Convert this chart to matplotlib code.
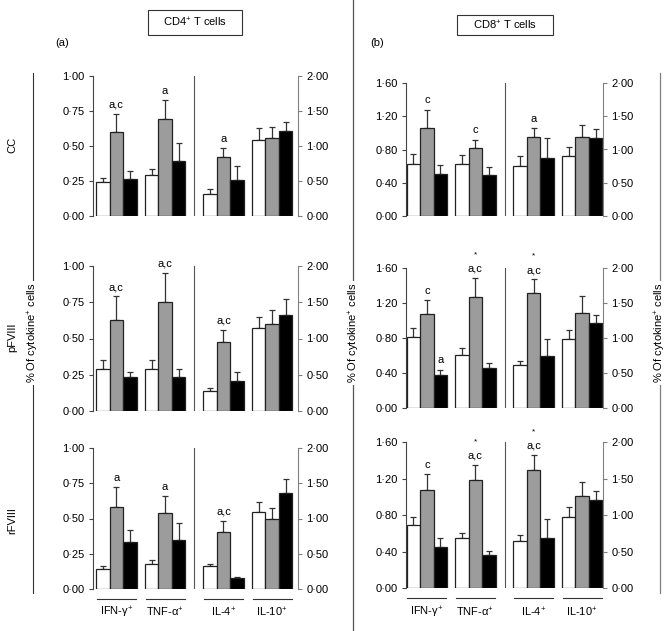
import numpy as np
import matplotlib.pyplot as plt
from matplotlib.patches import Rectangle
from matplotlib.lines import Line2D

plt.rcParams['font.family'] = ['Liberation Sans', 'DejaVu Sans']
plt.rcParams['mathtext.fontset'] = 'custom'
plt.rcParams['mathtext.rm'] = 'Liberation Sans'
plt.rcParams['mathtext.it'] = 'Liberation Sans:italic'
plt.rcParams['font.size'] = 8

# ---- data ----
groups = ['IFN-γ$^{+}$', 'TNF-α$^{+}$', 'IL-4$^{+}$', 'IL-10$^{+}$']
rows = ['CC', 'pFVIII', 'rFVIII']

# means: 4 groups x 3 bars (white, grey, black); IL-4 / IL-10 on right axis
cd4_cc = [[0.24, 0.60, 0.265], [0.29, 0.69, 0.39], [0.32, 0.84, 0.52], [1.09, 1.11, 1.21]]
cd4_cc_err = [[0.035, 0.13, 0.055], [0.045, 0.14, 0.13], [0.07, 0.13, 0.20], [0.16, 0.16, 0.13]]
cd4_pf = [[0.29, 0.63, 0.235], [0.29, 0.755, 0.235], [0.28, 0.95, 0.41], [1.15, 1.20, 1.32]]
cd4_pf_err = [[0.065, 0.16, 0.035], [0.065, 0.20, 0.055], [0.04, 0.17, 0.13], [0.15, 0.20, 0.22]]
cd4_rf = [[0.145, 0.58, 0.33], [0.175, 0.54, 0.35], [0.32, 0.81, 0.15], [1.09, 0.99, 1.36]]
cd4_rf_err = [[0.02, 0.14, 0.085], [0.03, 0.12, 0.115], [0.04, 0.16, 0.025], [0.14, 0.16, 0.20]]

cd8_cc = [[0.62, 1.06, 0.50], [0.62, 0.82, 0.49], [0.75, 1.19, 0.87], [0.90, 1.19, 1.18]]
cd8_cc_err = [[0.12, 0.22, 0.11], [0.11, 0.10, 0.10], [0.15, 0.13, 0.31], [0.14, 0.18, 0.13]]
cd8_pf = [[0.81, 1.07, 0.38], [0.61, 1.27, 0.46], [0.61, 1.64, 0.74], [0.98, 1.36, 1.21]]
cd8_pf_err = [[0.11, 0.16, 0.06], [0.08, 0.22, 0.05], [0.06, 0.20, 0.24], [0.14, 0.24, 0.12]]
cd8_rf = [[0.69, 1.07, 0.45], [0.55, 1.18, 0.36], [0.65, 1.62, 0.69], [0.97, 1.26, 1.21]]
cd8_rf_err = [[0.09, 0.18, 0.10], [0.05, 0.17, 0.05], [0.07, 0.20, 0.26], [0.14, 0.19, 0.12]]

# significance letters: (group, bar, text); stars: (group, bar)
cd4_notes = [
    [(0, 1, 'a,c'), (1, 1, 'a'), (2, 1, 'a')],
    [(0, 1, 'a,c'), (1, 1, 'a,c'), (2, 1, 'a,c')],
    [(0, 1, 'a'), (1, 1, 'a'), (2, 1, 'a,c')],
]
cd8_notes = [
    [(0, 1, 'c'), (1, 1, 'c'), (2, 1, 'a')],
    [(0, 1, 'c'), (0, 2, 'a'), (1, 1, 'a,c'), (2, 1, 'a,c')],
    [(0, 1, 'c'), (1, 1, 'a,c'), (2, 1, 'a,c')],
]
cd8_stars = [[], [(1, 1), (2, 1)], [(1, 1), (2, 1)]]

W, H = 668, 631
fig = plt.figure(figsize=(W / 100, H / 100), dpi=100)

centers = [0, 1, 2.2, 3.2]
bw = 0.278
colors = ['white', '#9c9c9c', 'black']


def fmt(v):
    return f'{v:.2f}'.replace('.', '·')


def panel(x0, x1, ytop, ybot, means, errs, ymax, yticks, notes, stars, xlim, last):
    ax = fig.add_axes([x0 / W, 1 - ybot / H, (x1 - x0) / W, (ybot - ytop) / H])
    ax2 = ax.twinx()
    for g in range(4):
        a = ax if g < 2 else ax2
        for b in range(3):
            x = centers[g] + (b - 1) * bw
            a.bar(x, means[g][b], bw, color=colors[b], edgecolor='#222222', linewidth=0.9, zorder=3)
            a.errorbar(x, means[g][b], yerr=[[0], [errs[g][b]]], color='#333333',
                       elinewidth=0.9, capsize=2.5, capthick=0.9, zorder=2)
    for g, b, t in notes:
        a = ax if g < 2 else ax2
        x = centers[g] + (b - 1) * bw
        a.annotate(t, (x, means[g][b] + errs[g][b]), xytext=(0, 3), textcoords='offset points',
                   ha='center', va='bottom', fontsize=8, annotation_clip=False)
    for g, b in stars:
        a = ax if g < 2 else ax2
        x = centers[g] + (b - 1) * bw
        a.annotate('*', (x, means[g][b] + errs[g][b]), xytext=(0, 14), textcoords='offset points',
                   ha='center', va='bottom', fontsize=6, annotation_clip=False)
    ax.set_xlim(*xlim)
    ax.set_ylim(0, ymax)
    ax2.set_ylim(0, 2)
    ax.set_yticks(yticks)
    ax.set_yticklabels([fmt(v) for v in yticks])
    r = [0, 0.5, 1, 1.5, 2]
    ax2.set_yticks(r)
    ax2.set_yticklabels([fmt(v) for v in r])
    for a in (ax, ax2):
        for s in ('top', 'bottom'):
            a.spines[s].set_visible(False)
        a.set_xticks([])
        a.tick_params(axis='y', direction='out', length=3, width=0.8, pad=3, labelsize=8)
        a.patch.set_visible(False)
    ax.spines['right'].set_visible(False)
    ax2.spines['left'].set_visible(False)
    ax.spines['left'].set_color('#444444')
    ax2.spines['right'].set_color('#808080')
    ax.tick_params(axis='y', color='#444444')
    ax2.tick_params(axis='y', color='#808080')
    ax.axvline(1.6, color='#555555', lw=0.8)
    if last:
        tr = ax.get_xaxis_transform()
        for g in range(4):
            ax.plot([centers[g] - 0.4, centers[g] + 0.4], [-0.07, -0.07], color='#333333',
                    lw=0.8, transform=tr, clip_on=False)
            ax.text(centers[g], -0.165, groups[g], transform=tr, ha='center', va='center', fontsize=8)
    return ax


a_rows = [(76, 216), (266, 411), (448, 589)]
b_rows = [(83, 216), (268, 408), (442, 588)]
cd4_data = [(cd4_cc, cd4_cc_err), (cd4_pf, cd4_pf_err), (cd4_rf, cd4_rf_err)]
cd8_data = [(cd8_cc, cd8_cc_err), (cd8_pf, cd8_pf_err), (cd8_rf, cd8_rf_err)]

for i in range(3):
    panel(93, 298, a_rows[i][0], a_rows[i][1], cd4_data[i][0], cd4_data[i][1], 1.0,
          [0, 0.25, 0.5, 0.75, 1.0], cd4_notes[i], [], (-0.48, 3.73), i == 2)
    panel(406, 603, b_rows[i][0], b_rows[i][1], cd8_data[i][0], cd8_data[i][1], 1.6,
          [0, 0.4, 0.8, 1.2, 1.6], cd8_notes[i], cd8_stars[i], (-0.43, 3.63), i == 2)


def fx(px):
    return px / W


def fy(py):
    return 1 - py / H


# title boxes
for (x0, y0, x1, y1, t) in [(148, 10, 242, 35, 'CD4$^{+}$ T cells'), (457, 15, 553, 35, 'CD8$^{+}$ T cells')]:
    fig.patches.append(Rectangle((fx(x0), fy(y1)), fx(x1) - fx(x0), fy(y0) - fy(y1),
                                 transform=fig.transFigure, fill=False, edgecolor='#333333', lw=0.8))
    fig.text(fx((x0 + x1) / 2), fy((y0 + y1) / 2), t, ha='center', va='center', fontsize=8)

fig.text(fx(62), fy(43), '(a)', ha='center', va='center', fontsize=8)
fig.text(fx(377), fy(43), '(b)', ha='center', va='center', fontsize=8)

# bracket lines and y labels
fig.lines.append(Line2D([fx(33), fx(33)], [fy(73), fy(593)], transform=fig.transFigure, color='#333333', lw=0.8))
fig.lines.append(Line2D([fx(353), fx(353)], [fy(0), fy(631)], transform=fig.transFigure, color='#555555', lw=0.9))
fig.lines.append(Line2D([fx(660), fx(660)], [fy(73), fy(593)], transform=fig.transFigure, color='#808080', lw=0.9))
for x in (33, 354, 660):
    fig.text(fx(x), fy(333), '% Of cytokine$^{+}$ cells', rotation=90, ha='center', va='center', fontsize=8,
             bbox=dict(facecolor='white', edgecolor='none', pad=1.5))

for y, t in zip([145, 337, 521], rows):
    fig.text(fx(12), fy(y), t, rotation=90, ha='center', va='center', fontsize=8)

fig.savefig('out.png', dpi=100)
